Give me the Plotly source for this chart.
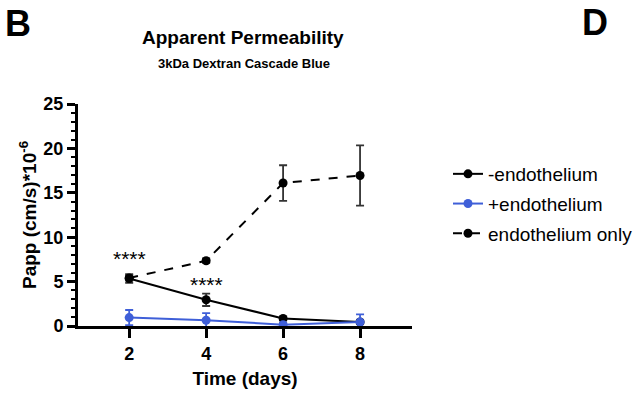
import plotly.graph_objects as go

days = [2, 4, 6, 8]
minus_endo = [5.35, 2.95, 0.85, 0.45]
minus_endo_err = [0.5, 0.7, 0.2, 0.2]
plus_endo = [0.95, 0.65, 0.15, 0.45]
plus_endo_err = [0.85, 0.8, 0.2, 0.85]
endo_only = [5.4, 7.35, 16.1, 16.95]
endo_only_err = [0.3, 0.25, 2.0, 3.4]
sig_days = [2, 4]
sig_y = [7.6, 4.7]
sig_text = ["****", "****"]

FONT = "Liberation Sans, Arial, sans-serif"

fig = go.Figure()

def add(name, y, err, color, dash):
    fig.add_trace(go.Scatter(
        x=days, y=y, name=name, mode="lines+markers", legendgroup=name,
        line=dict(color=color, width=2, dash=dash),
        marker=dict(color=color, size=9),
        error_y=dict(type="data", array=err, visible=True, color=color if color != "black" else "#333333",
                     thickness=1.8, width=4),
        cliponaxis=False,
    ))

add("-endothelium", minus_endo, minus_endo_err, "black", "solid")
add("+endothelium", plus_endo, plus_endo_err, "#3f5fd8", "solid")
add("endothelium only", endo_only, endo_only_err, "black", "dash")

for x, y, t in zip(sig_days, sig_y, sig_text):
    fig.add_annotation(x=x, y=y, text=t, showarrow=False,
                       font=dict(size=21, color="black", family=FONT))

def pap(py):
    return (326 - py) / 222

def pax(px):
    return (px - 78) / 334

def label(px, py, text, size):
    fig.add_annotation(xref="paper", yref="paper", x=pax(px), y=pap(py), text=text,
                       xanchor="center", yanchor="middle", showarrow=False,
                       font=dict(size=size, color="black", family=FONT))

label(243, 37, "<b>Apparent Permeability</b>", 19)
label(244, 63, "<b>3kDa Dextran Cascade Blue</b>", 13)
label(18, 24, "<b>B</b>", 36)
label(595, 23, "<b>D</b>", 36)

fig.update_layout(
    width=633, height=396,
    margin=dict(l=78, r=221, t=104, b=70, autoexpand=False),
    plot_bgcolor="white", paper_bgcolor="white",
    font=dict(family=FONT, color="black"),
    showlegend=True,
    legend=dict(x=pax(448), y=pap(155), xanchor="left", yanchor="top",
                font=dict(size=19, color="black", family=FONT),
                itemwidth=30, tracegroupgap=2),
    xaxis=dict(range=[0.67, 9.35], tickvals=days, ticktext=[str(d) for d in days],
               showline=True, linecolor="black", linewidth=3, ticks="outside", ticklen=9,
               tickwidth=3, tickcolor="black", showgrid=False, zeroline=False, automargin=False,
               tickfont=dict(size=18, family=FONT, weight="bold"),
               title=dict(text="<b>Time (days)</b>", font=dict(size=19, family=FONT), standoff=10)),
    yaxis=dict(range=[0, 25], tickvals=[0, 5, 10, 15, 20, 25],
               showline=True, linecolor="black", linewidth=3, ticks="outside", ticklen=8,
               tickwidth=3, tickcolor="black", showgrid=False, zeroline=False, automargin=False,
               minor=dict(dtick=1, ticks="outside", ticklen=4, tickwidth=2, tickcolor="black", showgrid=False),
               tickfont=dict(size=18, family=FONT, weight="bold"),
               title=dict(text="<b>Papp (cm/s)*10<sup>-6</sup></b>", font=dict(size=19, family=FONT), standoff=2)),
)

fig.write_html("out.html", config={"displayModeBar": False},
               post_script="document.body.style.margin='0';document.body.style.overflow='hidden';")
